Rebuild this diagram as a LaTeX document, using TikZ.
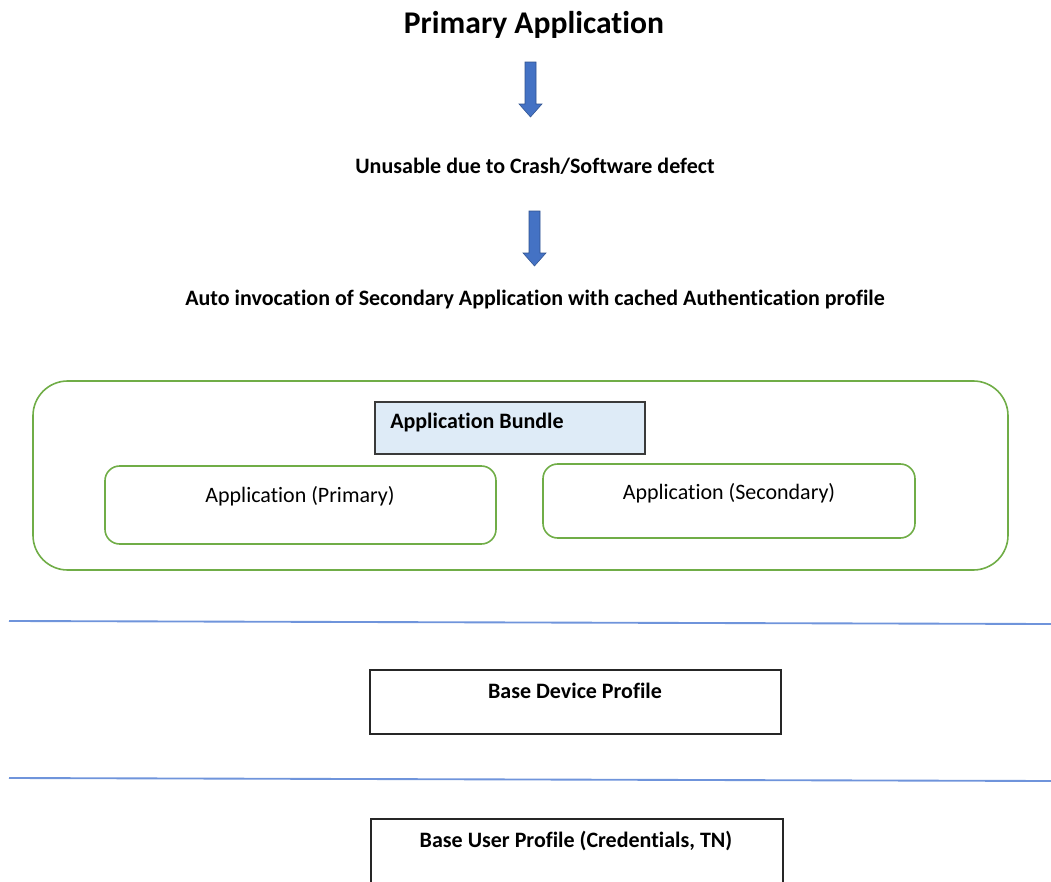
\documentclass[tikz,border=0pt]{standalone}
\usepackage{fontspec}
\setmainfont[Ligatures=NoCommon]{Carlito}
\usetikzlibrary{arrows.meta}
\definecolor{arrowblue}{HTML}{4472C4}
\definecolor{arrowedge}{HTML}{2F528F}
\definecolor{boxgreen}{HTML}{70AD47}
\definecolor{lineblue}{HTML}{6F94DB}
\definecolor{bundlefill}{HTML}{DEEBF7}
\definecolor{bundleedge}{HTML}{3A3A3A}
\tikzset{
  blockarrow/.style={draw=arrowedge, line width=0.4pt, fill=arrowblue},
  heading/.style={font=\fontsize{23.7}{26}\selectfont\bfseries, inner sep=0pt},
  steptext/.style={font=\fontsize{16.5}{18}\selectfont\bfseries, inner sep=0pt},
  greenbox/.style={draw=boxgreen, line width=1.2pt, rounded corners=#1},
  appbox/.style={draw=boxgreen, line width=1.2pt, rounded corners=11pt, inner sep=0pt},
  plainbox/.style={draw=black!85, line width=1.1pt, inner sep=0pt},
  boxtext/.style={font=\fontsize{16.5}{18}\selectfont\bfseries, inner sep=0pt},
  apptext/.style={font=\fontsize{16.5}{18}\selectfont, inner sep=0pt},
  divider/.style={draw=lineblue, line width=1.4pt}
}
\begin{document}
\begin{tikzpicture}[x=0.75pt, y=-0.75pt]
\useasboundingbox (0,0) rectangle (1051,882);
% headings
\node[heading] (title) at (534,25) {Primary Application};
\node[steptext] (unusable) at (535,166) {Unusable due to Crash/Software defect};
\node[steptext] (auto) at (535,300) {Auto invocation of Secondary Application with cached Authentication profile};
% block arrows
\draw[blockarrow] (525,62) -- (536,62) -- (536,104) -- (542,104) -- (530.5,117) -- (519,104) -- (525,104) -- cycle;
\draw[blockarrow] (529,211) -- (540,211) -- (540,253) -- (546,253) -- (534.5,266) -- (523,253) -- (529,253) -- cycle;
% application bundle container
\node[greenbox=26pt, minimum width=975*0.75pt, minimum height=189*0.75pt, inner sep=0pt] (bundle) at (520.5,475.5) {};
\node[plainbox, draw=bundleedge, fill=bundlefill, minimum width=270*0.75pt, minimum height=52*0.75pt] (bundlehead) at (510,428) {};
\node[boxtext, anchor=west] (bundlelabel) at (390,423) {Application Bundle};
\node[appbox, minimum width=391*0.75pt, minimum height=78*0.75pt] (primary) at (300.5,505) {};
\node[apptext] (primarylabel) at (300,496) {Application (Primary)};
\node[appbox, minimum width=372*0.75pt, minimum height=74*0.75pt] (secondary) at (729,501) {};
\node[apptext] (secondarylabel) at (729,493) {Application (Secondary)};
% dividers
\coordinate (d1l) at (9,621);
\coordinate (d1r) at (1051,624);
\coordinate (d2l) at (9,778);
\coordinate (d2r) at (1051,781);
\draw[divider] (d1l) -- (d1r);
\draw[divider] (d2l) -- (d2r);
% base profiles
\node[plainbox, minimum width=411*0.75pt, minimum height=64*0.75pt] (device) at (575.5,702) {};
\node[boxtext] (devicelabel) at (575,691) {Base Device Profile};
\begin{scope}
\clip (0,0) rectangle (1051,882);
\node[plainbox, minimum width=412*0.75pt, minimum height=80*0.75pt] (user) at (577,859) {};
\end{scope}
\node[boxtext] (userlabel) at (576,841) {Base User Profile (Credentials, TN)};
\end{tikzpicture}
\end{document}
